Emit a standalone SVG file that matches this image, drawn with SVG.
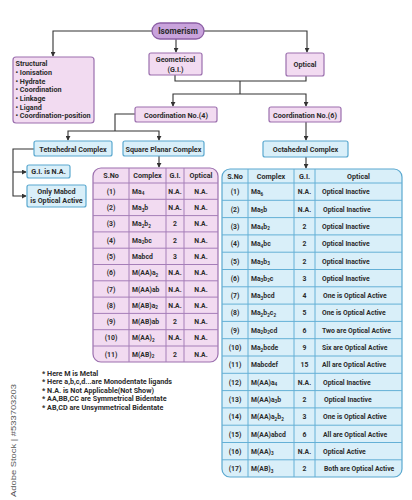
<svg xmlns="http://www.w3.org/2000/svg" width="412" height="500" viewBox="0 0 412 500">
<defs>
<marker id="ah" viewBox="0 0 6 6" refX="5" refY="3" markerWidth="5" markerHeight="5" orient="auto" markerUnits="userSpaceOnUse">
<path d="M0,0 L6,3 L0,6 Z" fill="#333"/>
</marker>
<style>
text{font-family:Roboto,"Liberation Sans",sans-serif;font-weight:bold;fill:#2b2b2b;transform-box:fill-box;transform-origin:50% 50%;transform:scaleX(0.9);}
text.l{transform-origin:0% 50%;}
text.nox{transform:none;font-weight:normal;}
.lbl{font-size:8px;text-anchor:middle;}
.st{font-size:8px;}
.td{font-size:7.6px;}
.c{text-anchor:middle;}
.th{font-size:8px;text-anchor:middle;}
.note{font-size:8px;}
.pbox{fill:#f2dbf1;stroke:#9b6fae;stroke-width:1.2;}
.bbox{fill:#d9eff9;stroke:#5aa8cf;stroke-width:1.2;}
.pgrid{stroke:#a57eb8;stroke-width:1;fill:none;}
.bgrid{stroke:#64b0d6;stroke-width:1;fill:none;}
.con{fill:none;stroke:#333;stroke-width:1.1;}
.sub{font-size:5.2px;}
</style>
</defs>
<rect width="412" height="500" fill="#ffffff"/>

<g id="connectors">
<path class="con" d="M152,31 H53 V56" marker-end="url(#ah)"/>
<path class="con" d="M204,31 H307 V52" marker-end="url(#ah)"/>
<path class="con" d="M176,39 V52" marker-end="url(#ah)"/>
<path class="con" d="M175,75 V81 H306 V76"/>
<path class="con" d="M240,81 V94"/>
<path class="con" d="M240,94 H173 V106" marker-end="url(#ah)"/>
<path class="con" d="M240,94 H306 V106" marker-end="url(#ah)"/>
<path class="con" d="M135,114 H115 V131"/>
<path class="con" d="M115,131 H68 V140" marker-end="url(#ah)"/>
<path class="con" d="M115,131 H159 V140" marker-end="url(#ah)"/>
<path class="con" d="M34,149 H13 V196 H26" marker-end="url(#ah)"/>
<path class="con" d="M13,172 H26" marker-end="url(#ah)"/>
<path class="con" d="M159,156 V167" marker-end="url(#ah)"/>
<path class="con" d="M306,122 V140" marker-end="url(#ah)"/>
<path class="con" d="M306,157 V168" marker-end="url(#ah)"/>
</g>

<g id="isomerism">
<rect x="152" y="23" width="52" height="16" rx="8" fill="#c9a3dc" stroke="#8c5fa5" stroke-width="1.3"/>
<text x="178" y="34.4" style="font-size:9.2px;text-anchor:middle">Isomerism</text>
</g>

<g id="structural">
<rect class="pbox" x="13" y="57" width="81" height="66" rx="3"/>
<text class="st l" x="15.5" y="66">Structural</text>
<text class="st l" x="15.5" y="75.3">• Ionisation</text>
<text class="st l" x="15.5" y="83.9">• Hydrate</text>
<text class="st l" x="15.5" y="92.5">• Coordination</text>
<text class="st l" x="15.5" y="101.1">• Linkage</text>
<text class="st l" x="15.5" y="109.7">• Ligand</text>
<text class="st l" x="15.5" y="118.4">• Coordination-position</text>
</g>

<g id="geometrical">
<rect class="pbox" x="149" y="53" width="53" height="22" rx="2"/>
<text class="lbl" x="175.5" y="62.2">Geometrical</text>
<text class="lbl" x="175.5" y="71.7">(G.I.)</text>
</g>

<g id="optical">
<rect class="pbox" x="286" y="53" width="38" height="23" rx="2"/>
<text class="lbl" x="305" y="67.2">Optical</text>
</g>

<g id="coord4">
<rect class="pbox" x="135" y="107" width="82" height="15" rx="2"/>
<text class="lbl" x="176" y="117.6">Coordination No.(4)</text>
</g>

<g id="coord6">
<rect class="pbox" x="269" y="107" width="72" height="15" rx="2"/>
<text class="lbl" x="305" y="117.6">Coordination No.(6)</text>
</g>

<g id="tetrahedral">
<rect class="bbox" x="34" y="141" width="78" height="15" rx="2"/>
<text class="lbl" x="73" y="151.6">Tetrahedral Complex</text>
</g>

<g id="squareplanar">
<rect class="bbox" x="123" y="141" width="81" height="15" rx="2"/>
<text class="lbl" x="163.5" y="151.6">Square Planar Complex</text>
</g>

<g id="gina">
<rect class="bbox" x="27" y="165" width="43" height="13" rx="2"/>
<text class="lbl" x="48.5" y="174.4">G.I. is N.A.</text>
</g>

<g id="onlymabcd">
<rect class="bbox" x="27" y="185" width="59" height="22" rx="2"/>
<text class="lbl" x="56.5" y="194.2">Only Mabcd</text>
<text class="lbl" x="56.5" y="203.2">is Optical Active</text>
</g>

<g id="octahedral">
<rect class="bbox" x="263" y="141" width="85" height="16" rx="2"/>
<text class="lbl" x="305.5" y="152">Octahedral Complex</text>
</g>

<g id="table-sqplanar">
<rect class="pbox" x="93" y="168" width="125" height="194" rx="8"/>
<path class="pgrid" d="M129,168 V362 M166,168 V362 M184,168 V362 M93,183 H218 M93,199.3 H218 M93,215.6 H218 M93,231.9 H218 M93,248.2 H218 M93,264.5 H218 M93,280.8 H218 M93,297.1 H218 M93,313.4 H218 M93,329.7 H218 M93,346 H218"/>
<text class="th" x="111" y="178.4">S.No</text>
<text class="th" x="147.5" y="178.4">Complex</text>
<text class="th" x="175" y="178.4">G.I.</text>
<text class="th" x="201" y="178.4">Optical</text>
<g class="td">
<text class="c" x="111" y="193.8">(1)</text><text class="l" x="132" y="193.8">Ma<tspan class="sub" dy="1.5">4</tspan></text><text class="c" x="175" y="193.8">N.A.</text><text class="c" x="201" y="193.8">N.A.</text>
<text class="c" x="111" y="210.1">(2)</text><text class="l" x="132" y="210.1">Ma<tspan class="sub" dy="1.5">3</tspan><tspan dy="-1.5">b</tspan></text><text class="c" x="175" y="210.1">N.A.</text><text class="c" x="201" y="210.1">N.A.</text>
<text class="c" x="111" y="226.4">(3)</text><text class="l" x="132" y="226.4">Ma<tspan class="sub" dy="1.5">2</tspan><tspan dy="-1.5">b</tspan><tspan class="sub" dy="1.5">2</tspan></text><text class="c" x="175" y="226.4">2</text><text class="c" x="201" y="226.4">N.A.</text>
<text class="c" x="111" y="242.7">(4)</text><text class="l" x="132" y="242.7">Ma<tspan class="sub" dy="1.5">2</tspan><tspan dy="-1.5">bc</tspan></text><text class="c" x="175" y="242.7">2</text><text class="c" x="201" y="242.7">N.A.</text>
<text class="c" x="111" y="259">(5)</text><text class="l" x="132" y="259">Mabcd</text><text class="c" x="175" y="259">3</text><text class="c" x="201" y="259">N.A.</text>
<text class="c" x="111" y="275.3">(6)</text><text class="l" x="132" y="275.3">M(AA)a<tspan class="sub" dy="1.5">2</tspan></text><text class="c" x="175" y="275.3">N.A.</text><text class="c" x="201" y="275.3">N.A.</text>
<text class="c" x="111" y="291.6">(7)</text><text class="l" x="132" y="291.6">M(AA)ab</text><text class="c" x="175" y="291.6">N.A.</text><text class="c" x="201" y="291.6">N.A.</text>
<text class="c" x="111" y="307.9">(8)</text><text class="l" x="132" y="307.9">M(AB)a<tspan class="sub" dy="1.5">2</tspan></text><text class="c" x="175" y="307.9">N.A.</text><text class="c" x="201" y="307.9">N.A.</text>
<text class="c" x="111" y="324.2">(9)</text><text class="l" x="132" y="324.2">M(AB)ab</text><text class="c" x="175" y="324.2">2</text><text class="c" x="201" y="324.2">N.A.</text>
<text class="c" x="111" y="340.5">(10)</text><text class="l" x="132" y="340.5">M(AA)<tspan class="sub" dy="1.5">2</tspan></text><text class="c" x="175" y="340.5">N.A.</text><text class="c" x="201" y="340.5">N.A.</text>
<text class="c" x="111" y="356.8">(11)</text><text class="l" x="132" y="356.8">M(AB)<tspan class="sub" dy="1.5">2</tspan></text><text class="c" x="175" y="356.8">2</text><text class="c" x="201" y="356.8">N.A.</text>
</g>
</g>

<g id="table-octahedral">
<rect class="bbox" x="222" y="169" width="180" height="308" rx="8"/>
<path class="bgrid" d="M248,169 V477 M294,169 V477 M315,169 V477 M222,183 H402 M222,200.3 H402 M222,217.6 H402 M222,234.9 H402 M222,252.2 H402 M222,269.5 H402 M222,286.8 H402 M222,304.1 H402 M222,321.4 H402 M222,338.7 H402 M222,356 H402 M222,373.3 H402 M222,390.6 H402 M222,407.9 H402 M222,425.2 H402 M222,442.5 H402 M222,459.8 H402"/>
<text class="th" x="235" y="178.9">S.No</text>
<text class="th" x="271" y="178.9">Complex</text>
<text class="th" x="304.5" y="178.9">G.I.</text>
<text class="th" x="358.5" y="178.9">Optical</text>
<g class="td">
<text class="c" x="235" y="194.4">(1)</text><text class="l" x="251" y="194.4">Ma<tspan class="sub" dy="1.5">6</tspan></text><text class="c" x="304.5" y="194.4">N.A.</text><text class="l" x="322" y="194.4">Optical Inactive</text>
<text class="c" x="235" y="211.7">(2)</text><text class="l" x="251" y="211.7">Ma<tspan class="sub" dy="1.5">5</tspan><tspan dy="-1.5">b</tspan></text><text class="c" x="304.5" y="211.7">N.A.</text><text class="l" x="323" y="211.7">Optical Inactive</text>
<text class="c" x="235" y="229">(3)</text><text class="l" x="251" y="229">Ma<tspan class="sub" dy="1.5">4</tspan><tspan dy="-1.5">b</tspan><tspan class="sub" dy="1.5">2</tspan></text><text class="c" x="304.5" y="229">2</text><text class="l" x="322" y="229">Optical Inactive</text>
<text class="c" x="235" y="246.3">(4)</text><text class="l" x="251" y="246.3">Ma<tspan class="sub" dy="1.5">4</tspan><tspan dy="-1.5">bc</tspan></text><text class="c" x="304.5" y="246.3">2</text><text class="l" x="322" y="246.3">Optical Inactive</text>
<text class="c" x="235" y="263.6">(5)</text><text class="l" x="251" y="263.6">Ma<tspan class="sub" dy="1.5">3</tspan><tspan dy="-1.5">b</tspan><tspan class="sub" dy="1.5">3</tspan></text><text class="c" x="304.5" y="263.6">2</text><text class="l" x="322" y="263.6">Optical Inactive</text>
<text class="c" x="235" y="280.9">(6)</text><text class="l" x="251" y="280.9">Ma<tspan class="sub" dy="1.5">3</tspan><tspan dy="-1.5">b</tspan><tspan class="sub" dy="1.5">2</tspan><tspan dy="-1.5">c</tspan></text><text class="c" x="304.5" y="280.9">3</text><text class="l" x="322" y="280.9">Optical Inactive</text>
<text class="c" x="235" y="298.2">(7)</text><text class="l" x="251" y="298.2">Ma<tspan class="sub" dy="1.5">3</tspan><tspan dy="-1.5">bcd</tspan></text><text class="c" x="304.5" y="298.2">4</text><text class="l" x="323" y="298.2">One is Optical Active</text>
<text class="c" x="235" y="315.5">(8)</text><text class="l" x="251" y="315.5">Ma<tspan class="sub" dy="1.5">2</tspan><tspan dy="-1.5">b</tspan><tspan class="sub" dy="1.5">2</tspan><tspan dy="-1.5">c</tspan><tspan class="sub" dy="1.5">2</tspan></text><text class="c" x="304.5" y="315.5">5</text><text class="l" x="322" y="315.5">One is Optical Active</text>
<text class="c" x="235" y="332.8">(9)</text><text class="l" x="251" y="332.8">Ma<tspan class="sub" dy="1.5">2</tspan><tspan dy="-1.5">b</tspan><tspan class="sub" dy="1.5">2</tspan><tspan dy="-1.5">cd</tspan></text><text class="c" x="304.5" y="332.8">6</text><text class="l" x="322" y="332.8">Two are Optical Active</text>
<text class="c" x="235" y="350.1">(10)</text><text class="l" x="251" y="350.1">Ma<tspan class="sub" dy="1.5">2</tspan><tspan dy="-1.5">bcde</tspan></text><text class="c" x="304.5" y="350.1">9</text><text class="l" x="322" y="350.1">Six are Optical Active</text>
<text class="c" x="235" y="367.4">(11)</text><text class="l" x="251" y="367.4">Mabcdef</text><text class="c" x="304.5" y="367.4">15</text><text class="l" x="322" y="367.4">All are Optical Active</text>
<text class="c" x="235" y="384.7">(12)</text><text class="l" x="251" y="384.7">M(AA)a<tspan class="sub" dy="1.5">4</tspan></text><text class="c" x="304.5" y="384.7">N.A.</text><text class="l" x="323" y="384.7">Optical Inactive</text>
<text class="c" x="235" y="402">(13)</text><text class="l" x="251" y="402">M(AA)a<tspan class="sub" dy="1.5">3</tspan><tspan dy="-1.5">b</tspan></text><text class="c" x="304.5" y="402">2</text><text class="l" x="324" y="402">Optical Inactive</text>
<text class="c" x="235" y="419.3">(14)</text><text class="l" x="251" y="419.3">M(AA)a<tspan class="sub" dy="1.5">2</tspan><tspan dy="-1.5">b</tspan><tspan class="sub" dy="1.5">2</tspan></text><text class="c" x="304.5" y="419.3">3</text><text class="l" x="323" y="419.3">One is Optical Active</text>
<text class="c" x="235" y="436.6">(15)</text><text class="l" x="251" y="436.6">M(AA)abcd</text><text class="c" x="304.5" y="436.6">6</text><text class="l" x="323" y="436.6">All are Optical Active</text>
<text class="c" x="235" y="453.9">(16)</text><text class="l" x="251" y="453.9">M(AA)<tspan class="sub" dy="1.5">3</tspan></text><text class="c" x="304.5" y="453.9">N.A.</text><text class="l" x="323" y="453.9">Optical Active</text>
<text class="c" x="235" y="471.2">(17)</text><text class="l" x="251" y="471.2">M(AB)<tspan class="sub" dy="1.5">3</tspan></text><text class="c" x="304.5" y="471.2">2</text><text class="l" x="324" y="471.2">Both are Optical Active</text>
</g>
</g>

<g id="notes">
<text class="note l" x="42" y="375.7">* Here M is Metal</text>
<text class="note l" x="42" y="384.2">* Here a,b,c,d...are Monodentate ligands</text>
<text class="note l" x="42" y="392.7">* N.A. is Not Applicable(Not Show)</text>
<text class="note l" x="42" y="401.2">* AA,BB,CC are Symmetrical Bidentate</text>
<text class="note l" x="42" y="409.7">* AB,CD are Unsymmetrical Bidentate</text>
</g>

<g transform="translate(15.5,497) rotate(-90)">
<text class="nox" x="0" y="0" style="font-family:'Liberation Sans',sans-serif;font-size:8px;fill:#555" textLength="113" lengthAdjust="spacingAndGlyphs">Adobe Stock | #533703203</text>
</g>
</svg>
